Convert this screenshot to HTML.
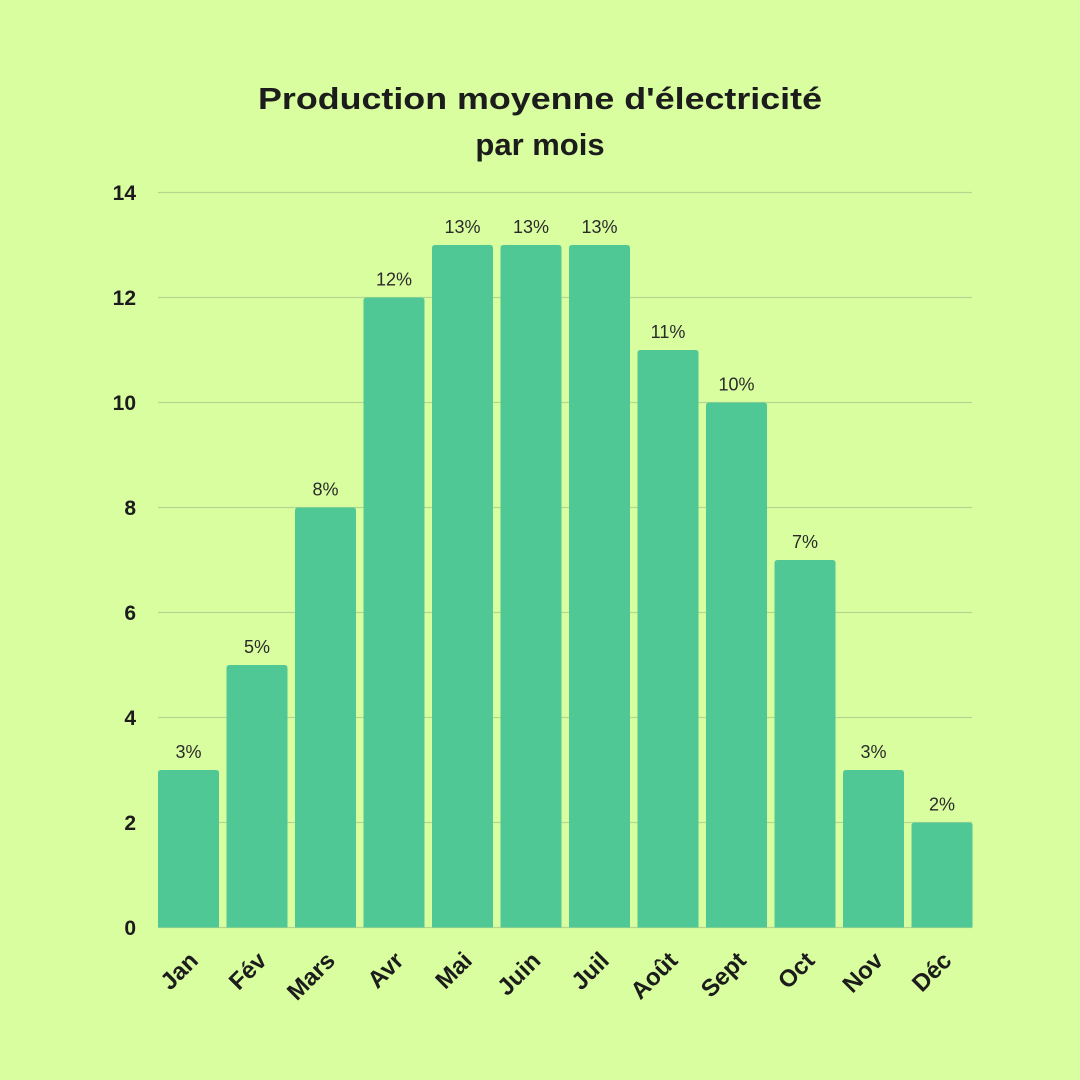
<!DOCTYPE html>
<html><head><meta charset="utf-8"><style>
html,body{margin:0;padding:0;background:#d9fea0;}
svg{display:block;font-family:"Liberation Sans",sans-serif;}
</style></head><body>
<svg width="1080" height="1080" viewBox="0 0 1080 1080">
<rect width="1080" height="1080" fill="#d9fea0"/>
<text x="540" y="109" text-anchor="middle" font-size="31" font-weight="bold" fill="#1c1c1c" textLength="564" lengthAdjust="spacingAndGlyphs">Production moyenne d'électricité</text>
<text x="540" y="155" text-anchor="middle" font-size="31" font-weight="bold" fill="#1c1c1c">par mois</text>
<g stroke="#b5d68e" stroke-width="1.2">
<line x1="158" x2="972" y1="192.5" y2="192.5"/>
<line x1="158" x2="972" y1="297.5" y2="297.5"/>
<line x1="158" x2="972" y1="402.5" y2="402.5"/>
<line x1="158" x2="972" y1="507.5" y2="507.5"/>
<line x1="158" x2="972" y1="612.5" y2="612.5"/>
<line x1="158" x2="972" y1="717.5" y2="717.5"/>
<line x1="158" x2="972" y1="822.5" y2="822.5"/>
<line x1="158" x2="972" y1="927.5" y2="927.5"/>
</g>
<g font-size="21" font-weight="bold" fill="#1c1c1c" text-anchor="end">
<text x="136" y="200">14</text><text x="136" y="305">12</text><text x="136" y="410">10</text>
<text x="136" y="515">8</text><text x="136" y="620">6</text><text x="136" y="725">4</text>
<text x="136" y="830">2</text><text x="136" y="935">0</text>
</g>
<g fill="#4fc896" id="bars"></g>
<g id="vals" font-size="18" fill="#2a2a2a" text-anchor="middle"></g>
<g id="xl" font-size="24" font-weight="bold" fill="#1c1c1c" text-anchor="end"></g>
</svg>
<script>
var v=[3,5,8,12,13,13,13,11,10,7,3,2],n=["Jan","Fév","Mars","Avr","Mai","Juin","Juil","Août","Sept","Oct","Nov","Déc"];
var b="",t="",l="";
for(var i=0;i<12;i++){var x=158+i*68.5,h=v[i]*52.5,y=927.5-h,c=x+30.5;
b+='<path d="M'+x+' 927.5V'+(y+3)+'Q'+x+' '+y+' '+(x+3)+' '+y+'H'+(x+58)+'Q'+(x+61)+' '+y+' '+(x+61)+' '+(y+3)+'V927.5Z"/>';
t+='<text x="'+c+'" y="'+(y-12)+'">'+v[i]+'%</text>';
l+='<text transform="translate('+(c+11)+',962) rotate(-45)">'+n[i]+'</text>';}
document.getElementById("bars").innerHTML=b;document.getElementById("vals").innerHTML=t;document.getElementById("xl").innerHTML=l;
</script>
</body></html>
